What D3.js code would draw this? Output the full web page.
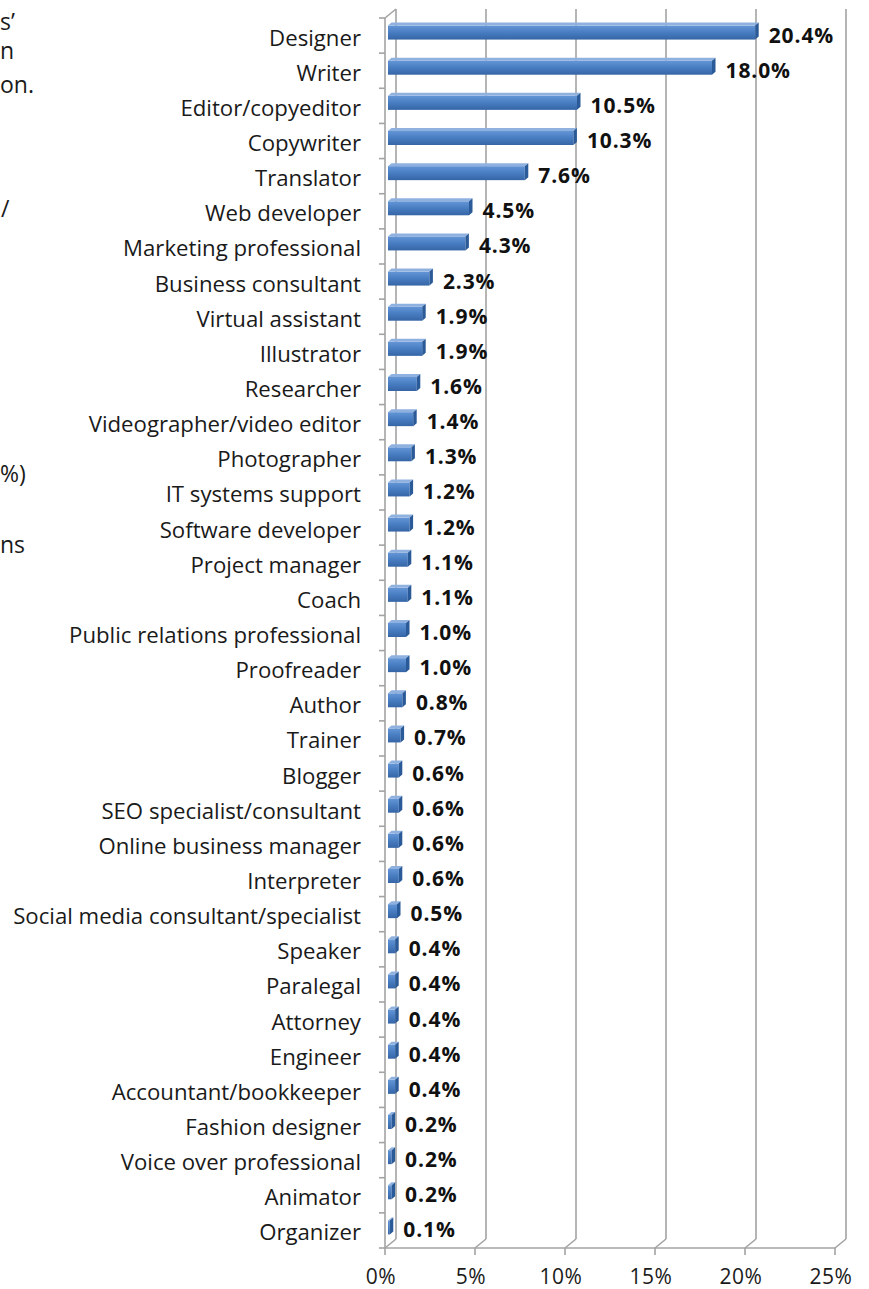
<!DOCTYPE html>
<html>
<head>
<meta charset="utf-8">
<script src="https://cdn.jsdelivr.net/npm/d3@7"></script>
<style>
  html, body { margin: 0; padding: 0; background: #fff; }
  svg { display: block; }
</style>
</head>
<body>
<svg id="chart" width="869" height="1289"></svg>
<script>
// Occupations of respondents, share of total (%)
const categories = [
  "Designer", "Writer", "Editor/copyeditor", "Copywriter", "Translator",
  "Web developer", "Marketing professional", "Business consultant",
  "Virtual assistant", "Illustrator", "Researcher", "Videographer/video editor",
  "Photographer", "IT systems support", "Software developer", "Project manager",
  "Coach", "Public relations professional", "Proofreader", "Author", "Trainer",
  "Blogger", "SEO specialist/consultant", "Online business manager", "Interpreter",
  "Social media consultant/specialist", "Speaker", "Paralegal", "Attorney",
  "Engineer", "Accountant/bookkeeper", "Fashion designer",
  "Voice over professional", "Animator", "Organizer"
];
const values = [
  20.4, 18.0, 10.5, 10.3, 7.6, 4.5, 4.3, 2.3, 1.9, 1.9, 1.6, 1.4, 1.3, 1.2,
  1.2, 1.1, 1.1, 1.0, 1.0, 0.8, 0.7, 0.6, 0.6, 0.6, 0.6, 0.5, 0.4, 0.4, 0.4,
  0.4, 0.4, 0.2, 0.2, 0.2, 0.1
];
const xTicks = [0, 5, 10, 15, 20, 25];
// Line endings of the neighbouring text column at the page edge
const sideText = [
  { t: "s\u2019", x: 0, y: 30 },
  { t: "n", x: 0, y: 59 },
  { t: "on.", x: 0, y: 93 },
  { t: "/", x: 1, y: 217 },
  { t: "%)", x: 0, y: 482 },
  { t: "ns", x: 0, y: 553 }
];

const svg = d3.select("#chart");
const font = "'Open Sans', Lato, sans-serif";

const x = d3.scaleLinear().domain([0, 25]).range([385, 835]);
const y = d3.scaleBand().domain(categories).range([18, 1248]);
const depthX = 11, depthY = -9;   // back-plane offset of the 3D box
const floorY = 1248, topY = 9;
const gridColor = "#a3a3a3";

svg.append("rect").attr("width", 869).attr("height", 1289).attr("fill", "#fff");

const defs = svg.append("defs");
const gFront = defs.append("linearGradient").attr("id", "barFront")
  .attr("x1", 0).attr("y1", 0).attr("x2", 0).attr("y2", 1);
gFront.append("stop").attr("offset", "0%").attr("stop-color", "#6496d6");
gFront.append("stop").attr("offset", "45%").attr("stop-color", "#4a7fc4");
gFront.append("stop").attr("offset", "100%").attr("stop-color", "#3565a6");

// Back wall gridlines and floor
const grid = svg.append("g").attr("stroke", gridColor).attr("stroke-width", 1.6).attr("fill", "none");
xTicks.forEach(t => {
  const bx = x(t) + depthX;
  grid.append("line").attr("x1", bx).attr("x2", bx).attr("y1", topY).attr("y2", floorY + depthY);
  grid.append("line").attr("x1", x(t)).attr("y1", floorY).attr("x2", bx).attr("y2", floorY + depthY);
  grid.append("line").attr("x1", x(t)).attr("x2", x(t)).attr("y1", floorY).attr("y2", floorY + 7);
});
// Side wall top edge
grid.append("line").attr("x1", x(0)).attr("y1", 18).attr("x2", x(0) + depthX).attr("y2", topY);
// Front floor edge and vertical category axis
grid.append("line").attr("x1", x(0)).attr("x2", x(25)).attr("y1", floorY).attr("y2", floorY);
grid.append("line").attr("x1", x(0)).attr("x2", x(0)).attr("y1", 18).attr("y2", floorY);
const bounds = categories.map(c => y(c)).concat([y.range()[1]]);
bounds.forEach(b => {
  grid.append("line").attr("x1", x(0) - 6).attr("x2", x(0)).attr("y1", b).attr("y2", b);
});

// 3D bars: front face, top face, end face
const bx0 = x(0) + 3;
const bh = 14, dx = 3.5, dy = 3;
const bars = svg.append("g").selectAll("g").data(categories).join("g");
bars.each(function (c, i) {
  const g = d3.select(this);
  const w = x(values[i]) - x(0);
  const cy = y(c) + y.bandwidth() / 2 - 3;
  const t = cy - bh / 2, b = cy + bh / 2;
  g.append("rect").attr("x", bx0).attr("y", t).attr("width", w).attr("height", bh)
    .attr("fill", "url(#barFront)");
  g.append("path")
    .attr("d", `M${bx0},${t} L${bx0 + w},${t} L${bx0 + w + dx},${t - dy} L${bx0 + dx},${t - dy} Z`)
    .attr("fill", "#8fb1e0");
  g.append("path")
    .attr("d", `M${bx0 + w},${t} L${bx0 + w + dx},${t - dy} L${bx0 + w + dx},${b - dy} L${bx0 + w},${b} Z`)
    .attr("fill", "#2b5a98");
});

// Value labels
svg.append("g").selectAll("text").data(categories).join("text")
  .attr("x", (c, i) => x(values[i]) + 3 + dx + 10)
  .attr("y", c => y(c) + y.bandwidth() / 2 + 7)
  .attr("font-family", font).attr("font-weight", "bold").attr("font-size", 21)
  .attr("letter-spacing", 0.9)
  .attr("fill", "#111")
  .text((c, i) => values[i].toFixed(1) + "%");

// Category labels
svg.append("g").selectAll("text").data(categories).join("text")
  .attr("x", 361)
  .attr("y", c => y(c) + y.bandwidth() / 2 + 10)
  .attr("text-anchor", "end")
  .attr("font-family", font).attr("font-size", 22.2)
  .attr("fill", "#1a1a1a")
  .text(c => c);

// X axis tick labels
svg.append("g").selectAll("text").data(xTicks).join("text")
  .attr("x", t => x(t) - 4)
  .attr("y", 1284)
  .attr("text-anchor", "middle")
  .attr("font-family", font).attr("font-size", 21)
  .attr("letter-spacing", 0.5)
  .attr("fill", "#1a1a1a")
  .text(t => t + "%");

// Neighbouring text column endings
svg.append("g").selectAll("text").data(sideText).join("text")
  .attr("x", d => d.x).attr("y", d => d.y)
  .attr("font-family", font).attr("font-size", 23)
  .attr("fill", "#1a1a1a")
  .text(d => d.t);
</script>
</body>
</html>
